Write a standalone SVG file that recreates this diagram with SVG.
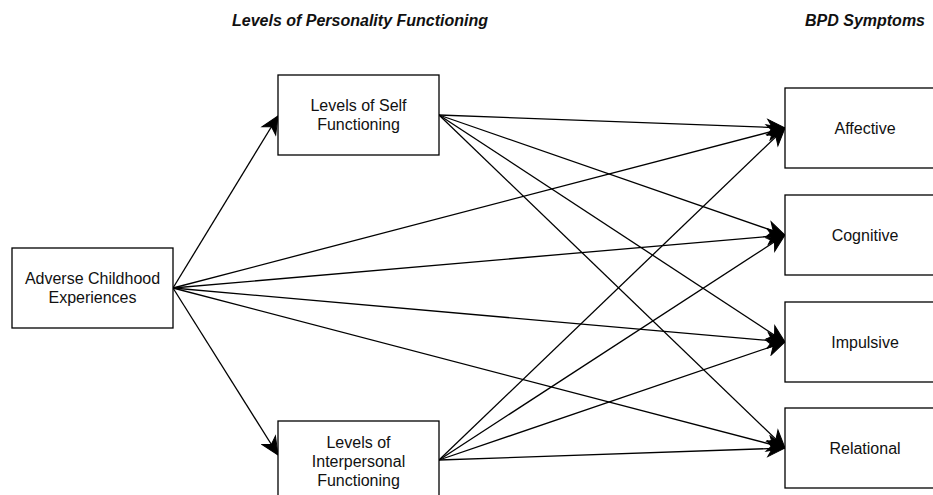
<svg xmlns="http://www.w3.org/2000/svg" width="933" height="495" viewBox="0 0 933 495">
  <style>
    .box { fill: #ffffff; stroke: #000000; stroke-width: 1.3; }
    .lbl { font-family: "Liberation Sans", Arial, Helvetica, sans-serif; font-size: 16px; fill: #111111; text-anchor: middle; }
    .title { font-family: "Liberation Sans", Arial, Helvetica, sans-serif; font-size: 16px; font-weight: bold; font-style: italic; fill: #111111; text-anchor: middle; }
    .edge { fill: none; stroke: #000000; stroke-width: 1.3; marker-end: url(#arrow); }
  </style>
  <defs>
    <marker id="arrow" markerUnits="userSpaceOnUse" viewBox="-19 -9 20 18" refX="0" refY="0" markerWidth="20" markerHeight="18" orient="auto">
      <path d="M0,0 L-17.5,-8 L-12.5,0 L-17.5,8 Z" fill="#000000" stroke="#000000" stroke-width="1"/>
    </marker>
  </defs>
  <rect width="933" height="495" fill="#ffffff"/>

  <!-- column headings -->
  <g id="headings">
    <text class="title" x="360" y="26">Levels of Personality Functioning</text>
    <text class="title" x="865" y="26">BPD Symptoms</text>
  </g>

  <!-- connectors -->
  <g id="connectors">
    <!-- from Adverse Childhood Experiences -->
    <line class="edge" x1="173" y1="288" x2="278" y2="116"/>
    <line class="edge" x1="173" y1="288" x2="278" y2="455"/>
    <line class="edge" x1="173" y1="288" x2="785" y2="128"/>
    <line class="edge" x1="173" y1="288" x2="785" y2="235"/>
    <line class="edge" x1="173" y1="288" x2="785" y2="342"/>
    <line class="edge" x1="173" y1="288" x2="785" y2="448"/>
    <!-- from Levels of Self Functioning -->
    <line class="edge" x1="439" y1="115" x2="785" y2="128"/>
    <line class="edge" x1="439" y1="115" x2="785" y2="235"/>
    <line class="edge" x1="439" y1="115" x2="785" y2="342"/>
    <line class="edge" x1="439" y1="115" x2="785" y2="448"/>
    <!-- from Levels of Interpersonal Functioning -->
    <line class="edge" x1="439" y1="460" x2="785" y2="128"/>
    <line class="edge" x1="439" y1="460" x2="785" y2="235"/>
    <line class="edge" x1="439" y1="460" x2="785" y2="342"/>
    <line class="edge" x1="439" y1="460" x2="785" y2="448"/>
  </g>

  <!-- nodes -->
  <g id="ace">
    <rect class="box" x="12" y="248" width="161" height="80"/>
    <text class="lbl" x="92.5" y="284">Adverse Childhood</text>
    <text class="lbl" x="92.5" y="303">Experiences</text>
  </g>
  <g id="self-functioning">
    <rect class="box" x="278" y="75" width="161" height="80"/>
    <text class="lbl" x="358.5" y="111">Levels of Self</text>
    <text class="lbl" x="358.5" y="130">Functioning</text>
  </g>
  <g id="interpersonal-functioning">
    <rect class="box" x="278" y="421" width="161" height="80"/>
    <text class="lbl" x="358.5" y="448">Levels of</text>
    <text class="lbl" x="358.5" y="467">Interpersonal</text>
    <text class="lbl" x="358.5" y="486">Functioning</text>
  </g>
  <g id="affective">
    <rect class="box" x="785" y="88" width="160" height="80"/>
    <text class="lbl" x="865" y="134">Affective</text>
  </g>
  <g id="cognitive">
    <rect class="box" x="785" y="195" width="160" height="80"/>
    <text class="lbl" x="865" y="241">Cognitive</text>
  </g>
  <g id="impulsive">
    <rect class="box" x="785" y="302" width="160" height="80"/>
    <text class="lbl" x="865" y="348">Impulsive</text>
  </g>
  <g id="relational">
    <rect class="box" x="785" y="408" width="160" height="80"/>
    <text class="lbl" x="865" y="454">Relational</text>
  </g>
</svg>
